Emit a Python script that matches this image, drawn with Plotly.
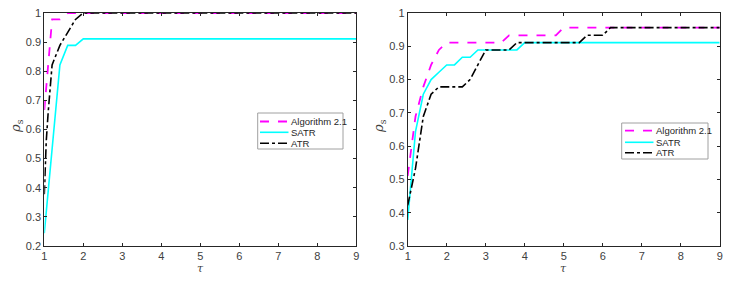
import plotly.graph_objects as go

# ---- left panel data ----
L_alg_tau = [1.0, 1.2, 1.4, 1.6, 9.0]
L_alg_rho = [0.667, 0.978, 0.978, 1.0, 1.0]
L_satr_tau = [1.0, 1.4, 1.6, 1.8, 2.0, 9.0]
L_satr_rho = [0.244, 0.822, 0.889, 0.889, 0.911, 0.911]
L_atr_tau = [1.0, 1.05, 1.1, 1.2, 1.4, 1.6, 1.8, 2.0, 9.0]
L_atr_rho = [0.378, 0.56, 0.66, 0.822, 0.889, 0.933, 0.978, 1.0, 1.0]

# ---- right panel data ----
R_alg_tau = [1.0, 1.2, 1.4, 1.6, 1.8, 2.0, 3.4, 3.6, 4.8, 5.0, 9.0]
R_alg_rho = [0.511, 0.689, 0.778, 0.844, 0.889, 0.911, 0.911, 0.933, 0.933, 0.956, 0.956]
R_satr_tau = [1.0, 1.2, 1.4, 1.6, 1.8, 2.0, 2.2, 2.4, 2.6, 2.8, 3.8, 4.0, 9.0]
R_satr_rho = [0.378, 0.644, 0.756, 0.8, 0.822, 0.844, 0.844, 0.867, 0.867, 0.889, 0.889, 0.911, 0.911]
R_atr_tau = [1.0, 1.2, 1.4, 1.6, 1.8, 2.4, 2.6, 2.8, 3.0, 3.6, 3.8, 5.4, 5.6, 6.0, 6.2, 9.0]
R_atr_rho = [0.422, 0.533, 0.689, 0.756, 0.778, 0.778, 0.8, 0.844, 0.889, 0.889, 0.911, 0.911, 0.933, 0.933, 0.956, 0.956]

names = ["Algorithm 2.1", "SATR", "ATR"]
x_ticks = [1, 2, 3, 4, 5, 6, 7, 8, 9]
L_y_ticks = [0.2, 0.3, 0.4, 0.5, 0.6, 0.7, 0.8, 0.9, 1.0]
L_y_text = ["0.2", "0.3", "0.4", "0.5", "0.6", "0.7", "0.8", "0.9", "1"]
R_y_ticks = [0.3, 0.4, 0.5, 0.6, 0.7, 0.8, 0.9, 1.0]
R_y_text = ["0.3", "0.4", "0.5", "0.6", "0.7", "0.8", "0.9", "1"]

styles = [dict(color="#FF00FF", dash="dash", width=1.8),
          dict(color="#00FFFF", dash="solid", width=1.6),
          dict(color="#000000", dash="dashdot", width=1.6)]

W, H = 751, 282
ML, MR, MT, MB = 40, 20, 13, 36
PW, PH = W - ML - MR, H - MT - MB


def px(p):
    return (p - ML) / PW


def py(p):
    return (H - MB - p) / PH


fig = go.Figure()
left = [(L_alg_tau, L_alg_rho), (L_satr_tau, L_satr_rho), (L_atr_tau, L_atr_rho)]
right = [(R_alg_tau, R_alg_rho), (R_satr_tau, R_satr_rho), (R_atr_tau, R_atr_rho)]
for (x, y), n, s in zip(left, names, styles):
    fig.add_trace(go.Scatter(x=x, y=y, mode="lines", name=n, line=s,
                             xaxis="x", yaxis="y", showlegend=False))
for (x, y), n, s in zip(right, names, styles):
    fig.add_trace(go.Scatter(x=x, y=y, mode="lines", name=n, line=s,
                             xaxis="x2", yaxis="y2", showlegend=False))

axcol = "#262626"
tickfont = dict(family="Liberation Sans, Arial, sans-serif", size=11, color="#404040")
common = dict(showgrid=False, zeroline=False, showline=True, linecolor=axcol, linewidth=1,
              mirror="ticks", ticks="inside", ticklen=3, tickcolor=axcol,
              tickfont=tickfont, automargin=False)

fig.update_layout(
    width=W, height=H,
    margin=dict(l=ML, r=MR, t=MT, b=MB),
    plot_bgcolor="white", paper_bgcolor="white",
    xaxis=dict(domain=[px(44.3), px(356.3)], range=[1, 9], tickvals=x_ticks, anchor="y", **common),
    yaxis=dict(domain=[0, 1], range=[0.2, 1.0], tickvals=L_y_ticks, ticktext=L_y_text, anchor="x", **common),
    xaxis2=dict(domain=[px(407.7), px(719.7)], range=[1, 9], tickvals=x_ticks, anchor="y2", **common),
    yaxis2=dict(domain=[0, 1], range=[0.3, 1.0], tickvals=R_y_ticks, ticktext=R_y_text, anchor="x2", **common),
    showlegend=False,
)

# custom legends (box, line samples, labels)
legfont = dict(family="Liberation Sans, Arial, sans-serif", size=9.5, color="#262626")


def add_legend(x0, y0, x1, y1, rows, lx0, lx1, tx):
    fig.add_shape(type="rect", xref="paper", yref="paper",
                  x0=px(x0), x1=px(x1), y0=py(y0), y1=py(y1),
                  line=dict(color="#a0a0a0", width=1), fillcolor="white", layer="above")
    for ry, n, s in zip(rows, names, styles):
        fig.add_shape(type="line", xref="paper", yref="paper",
                      x0=px(lx0), x1=px(lx1), y0=py(ry), y1=py(ry),
                      line=s, layer="above")
        fig.add_annotation(text=n, x=px(tx), y=py(ry), xref="paper", yref="paper",
                           xanchor="left", yanchor="middle", showarrow=False, font=legfont)


add_legend(257.7, 113, 343, 149, [121.5, 132.3, 143.3], 260, 288.5, 289)
add_legend(621.7, 123, 708, 159, [130.7, 142.3, 152.7], 625, 653.5, 654)

lab = dict(family="DejaVu Serif, serif", size=11, color="#404040")
for cx in (200, 563.7):
    fig.add_annotation(text="<i>τ</i>", x=px(cx), y=py(268), xref="paper", yref="paper",
                       showarrow=False, font=lab, xanchor="center", yanchor="middle")
for cx in (16, 379):
    fig.add_annotation(text="<i>ρ</i><sub>s</sub>", x=px(cx), y=py(126), xref="paper", yref="paper",
                       showarrow=False, font=dict(family="DejaVu Serif, serif", size=13, color="#404040"),
                       textangle=-90, xanchor="center", yanchor="middle")

fig.write_html("out.html", config={"displayModeBar": False},
               post_script="document.body.style.margin='0';document.body.style.padding='0';")
